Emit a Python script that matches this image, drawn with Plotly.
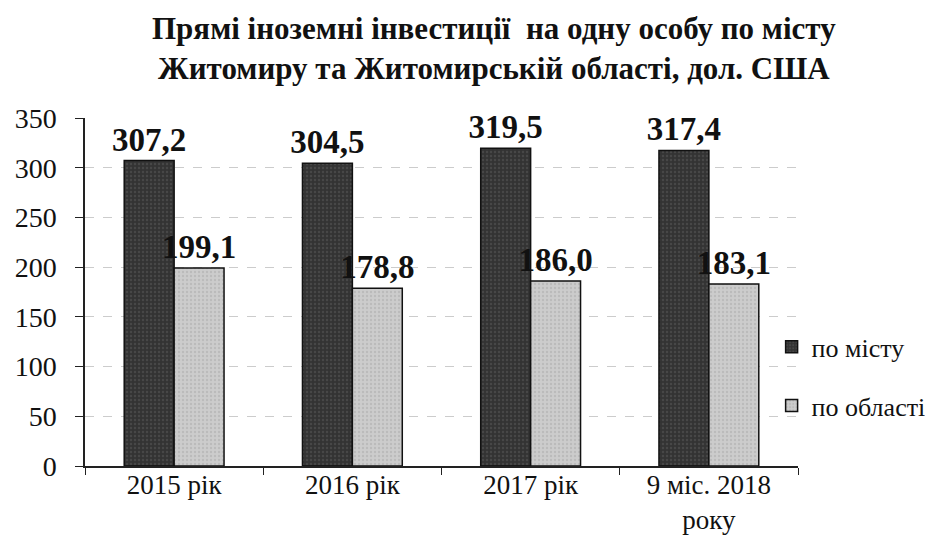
import plotly.graph_objects as go

categories = ["2015 рік", "2016 рік", "2017 рік", "9 міс. 2018<br>року"]
city = [307.2, 304.5, 319.5, 317.4]
region = [199.1, 178.8, 186.0, 183.1]
series_names = ["по місту", "по області"]
yticks = [0, 50, 100, 150, 200, 250, 300, 350]
title_text = "Прямі іноземні інвестиції  на одну особу по місту<br>Житомиру та Житомирській області, дол. США"

SERIF = "Liberation Serif, Times New Roman, serif"

def fmt(v):
    return f"{v:.1f}".replace(".", ",")

fig = go.Figure()
fig.add_trace(go.Bar(
    x=categories, y=city, name=series_names[0], legendgroup="a",
    marker=dict(color="#3c3c3c", line=dict(color="#111111", width=1.5),
                pattern=dict(shape=".", fgcolor="#5a5a5a", bgcolor="#333333", size=4, solidity=0.3)),
    text=[fmt(v) for v in city], textposition="outside", cliponaxis=False, constraintext="none",
    textfont=dict(family=SERIF, size=33, color="#111111", weight="bold"),
))
fig.add_trace(go.Bar(
    x=categories, y=region, name=series_names[1], legendgroup="b",
    marker=dict(color="#c4c4c4", line=dict(color="#111111", width=1.5),
                pattern=dict(shape=".", fgcolor="#aaaaaa", bgcolor="#cccccc", size=4, solidity=0.3)),
    text=[fmt(v) for v in region], textposition="outside", cliponaxis=False, constraintext="none",
    textfont=dict(family=SERIF, size=33, color="#111111", weight="bold"),
))

fig.add_annotation(
    text=title_text, xref="paper", yref="paper",
    x=(486 - 77) / 713, y=1 + (110 - 1) / 348, xanchor="center", yanchor="top",
    showarrow=False, align="center",
    font=dict(family=SERIF, size=31, color="#111111", weight="bold"),
)

fig.update_layout(
    width=933, height=535,
    margin=dict(l=77, r=143, t=110, b=77, autoexpand=False),
    paper_bgcolor="white", plot_bgcolor="white",
    barmode="group", bargap=0.44, bargroupgap=0,
    font=dict(family=SERIF, size=24, color="#111111"),
    showlegend=True,
    legend=dict(x=0.963, xanchor="left", y=0.41, yanchor="top",
                font=dict(family=SERIF, size=26, color="#111111"),
                tracegroupgap=22, bgcolor="rgba(0,0,0,0)", itemwidth=30),
    xaxis=dict(showline=True, linecolor="#222222", linewidth=1.5, automargin=False,
               ticks="outside", tickson="boundaries", ticklen=7, tickcolor="#222222",
               ticklabelstandoff=-6,
               tickfont=dict(family=SERIF, size=27, color="#111111")),
    yaxis=dict(range=[0, 350], tickvals=yticks, showline=True, linecolor="#222222", linewidth=1.5,
               automargin=False, ticks="outside", ticklen=8, tickcolor="#222222",
               ticklabelstandoff=13,
               showgrid=True, gridcolor="#cccccc", griddash="dash", gridwidth=1,
               zeroline=False,
               tickfont=dict(family=SERIF, size=28, color="#111111")),
)

fig.write_html("out.html")
